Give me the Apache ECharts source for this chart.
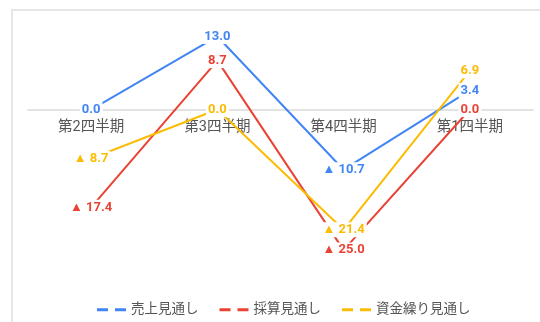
<!DOCTYPE html>
<html><head><meta charset="utf-8">
<script src="https://cdn.jsdelivr.net/npm/echarts@6/dist/echarts.min.js"></script>
<style>
html,body{margin:0;padding:0;background:#fff;}
#frame{position:absolute;left:11px;top:9px;width:600px;height:400px;border-left:2px solid #e6e6e6;border-top:2px solid #e6e6e6;}
#c{position:absolute;left:0;top:0;width:540px;height:322px;}
</style></head>
<body>
<div id="frame"></div>
<div id="c"></div>
<script>
const categories = ['第2四半期', '第3四半期', '第4四半期', '第1四半期'];
const seriesNames = ['売上見通し', '採算見通し', '資金繰り見通し'];
const sales = [0.0, 13.0, -10.7, 3.4];
const profit = [-17.4, 8.7, -25.0, 0.0];
const cash = [-8.7, 0.0, -21.4, 6.9];
const colors = ['#4285F4', '#EA4335', '#FBBC04'];

const fontJP = 'Roboto, "Noto Sans CJK JP", sans-serif';
const yMin = -30, yMax = 15, gridTop = 25.2, gridH = 253;
function mk(name, data, color) {
  return {
    name: name, type: 'line', data: data,
    symbol: 'circle', symbolSize: 0, showSymbol: true,
    lineStyle: {color: color, width: 2},
    itemStyle: {color: color},
    label: {
      show: true, position: 'inside', color: color,
      fontFamily: 'Roboto, Arial, sans-serif', fontWeight: 'bold', fontSize: 13,
      backgroundColor: '#fff', padding: [1, 2],
      formatter: p => p.value < 0 ? '▲ ' + Math.abs(p.value).toFixed(1) : p.value.toFixed(1)
    },
    emphasis: {disabled: true}
  };
}
// distance of the zero line above the grid bottom, so the category axis sits on zero
const zeroOffset = -gridH * (0 - yMin) / (yMax - yMin);
const chart = echarts.init(document.getElementById('c'), null, {renderer: 'canvas'});
chart.setOption({
  animation: false,
  color: colors,
  grid: {left: 28, right: 7, top: gridTop, height: gridH, containLabel: false},
  xAxis: {
    type: 'category', data: categories, boundaryGap: true,
    offset: zeroOffset,
    axisLine: {onZero: false, lineStyle: {color: '#e3e3e3', width: 2}},
    axisTick: {show: false},
    axisLabel: {color: '#555', fontSize: 14.5, fontFamily: fontJP, margin: 11}
  },
  yAxis: {
    type: 'value', min: yMin, max: yMax, show: false, splitLine: {show: false}
  },
  legend: {
    left: 92, top: 298, itemWidth: 29, itemHeight: 3, itemGap: 21,
    icon: 'path://M0,0H11V3H0Z M18,0H29V3H18Z',
    textStyle: {color: '#555', fontSize: 13.5, fontFamily: fontJP},
    data: seriesNames
  },
  series: [
    mk(seriesNames[0], sales, colors[0]),
    mk(seriesNames[1], profit, colors[1]),
    mk(seriesNames[2], cash, colors[2])
  ]
});
</script>
</body></html>
